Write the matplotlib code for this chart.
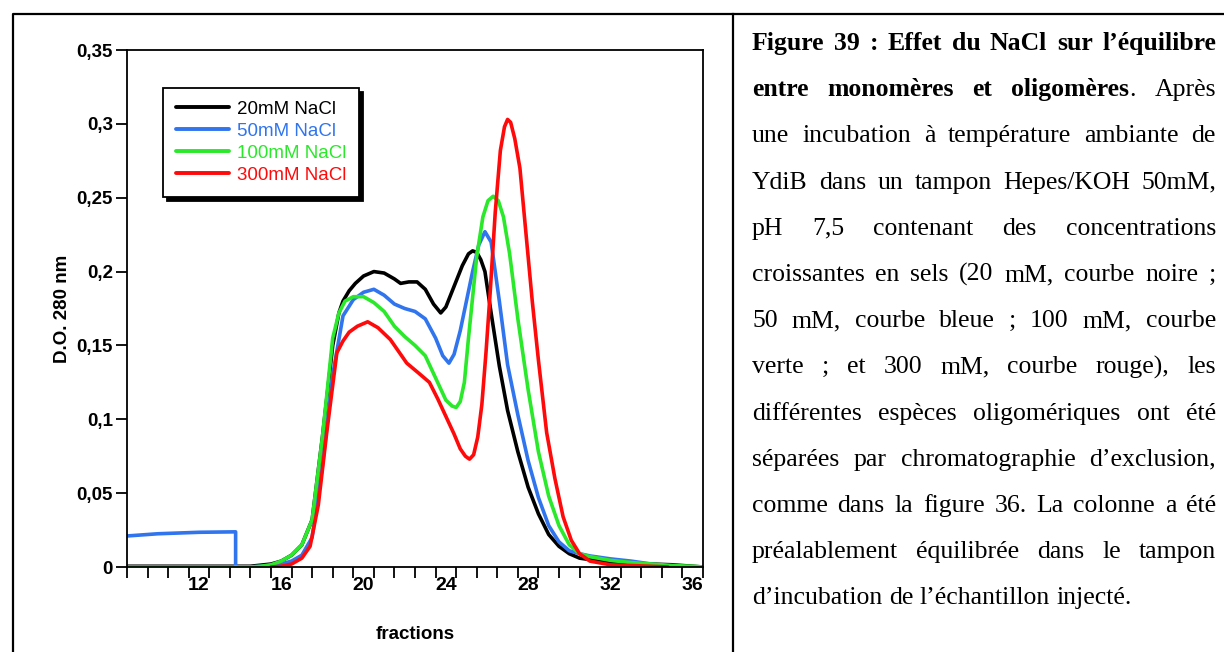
import matplotlib
matplotlib.use("Agg")
import matplotlib.pyplot as plt
from matplotlib.lines import Line2D
from matplotlib.ticker import FixedLocator, FuncFormatter

plt.rcParams['font.family'] = ['Liberation Sans', 'DejaVu Sans']

# data
labels = ['20mM NaCl', '50mM NaCl', '100mM NaCl', '300mM NaCl']
colors = ['#000000', '#3074ee', '#2ae82a', '#ff0a0a']

x_20 = [8.5, 14.5, 15.5, 16.0, 16.5, 17.0, 17.5, 18.0, 18.5, 18.8, 19.0, 19.3, 19.6, 20.0, 20.5,
        21.0, 21.5, 21.8, 22.2, 22.6, 23.0, 23.4, 23.75, 24.0, 24.4, 24.8, 25.1, 25.3, 25.5, 25.7,
        25.9, 26.2, 26.6, 27.0, 27.5, 28.0, 28.5, 29.0, 29.5, 30.0, 30.5, 31.0, 32.0, 33.0, 34.0,
        35.0, 36.0, 36.5]
y_20 = [0.0005, 0.0005, 0.002, 0.004, 0.008, 0.015, 0.032, 0.088, 0.15, 0.172, 0.18, 0.187,
        0.192, 0.197, 0.2, 0.199, 0.195, 0.192, 0.193, 0.193, 0.188, 0.178, 0.172, 0.176, 0.19,
        0.204, 0.212, 0.214, 0.213, 0.208, 0.2, 0.172, 0.136, 0.106, 0.078, 0.054, 0.036, 0.022,
        0.014, 0.009, 0.006, 0.005, 0.003, 0.0025, 0.002, 0.0015, 0.0005, 0.0]

x_50 = [8.5, 10.0, 12.0, 13.78, 13.78, 14.5, 15.5, 16.0, 16.5, 17.0, 17.5, 18.0, 18.5, 19.0, 19.5,
        20.0, 20.5, 21.0, 21.5, 22.0, 22.5, 23.0, 23.5, 23.85, 24.15, 24.4, 24.7, 25.0, 25.3,
        25.6, 25.9, 26.2, 26.6, 27.0, 27.5, 28.0, 28.5, 29.0, 29.5, 30.0, 30.5, 31.0, 32.0, 33.0,
        34.0, 34.5]
y_50 = [0.021, 0.0225, 0.0235, 0.0238, 0.0, 0.0, 0.001, 0.002, 0.004, 0.008, 0.02, 0.068, 0.13,
        0.17, 0.181, 0.186, 0.188, 0.184, 0.178, 0.175, 0.173, 0.168, 0.155, 0.143, 0.138, 0.144,
        0.16, 0.18, 0.2, 0.218, 0.227, 0.22, 0.18, 0.137, 0.103, 0.072, 0.047, 0.028, 0.017,
        0.011, 0.009, 0.0075, 0.0055, 0.004, 0.002, 0.001]

x_100 = [8.5, 14.5, 15.0, 15.5, 16.0, 16.5, 17.0, 17.5, 18.0, 18.5, 18.8, 19.1, 19.5, 20.0, 20.5,
         21.0, 21.5, 22.0, 22.5, 23.0, 23.5, 24.0, 24.3, 24.5, 24.7, 24.9, 25.1, 25.5, 25.8, 26.05,
         26.3, 26.55, 26.8, 27.1, 27.5, 28.0, 28.5, 29.0, 29.5, 30.0, 30.5, 31.0, 32.0, 33.0, 34.0,
         35.0, 36.0, 36.5]
y_100 = [0.0, 0.0, 0.0005, 0.0015, 0.004, 0.008, 0.015, 0.032, 0.088, 0.155, 0.172, 0.18, 0.183,
         0.183, 0.179, 0.173, 0.163, 0.156, 0.15, 0.143, 0.128, 0.113, 0.109, 0.108, 0.112, 0.125,
         0.155, 0.21, 0.237, 0.248, 0.251, 0.248, 0.237, 0.212, 0.168, 0.12, 0.078, 0.048, 0.028,
         0.015, 0.009, 0.007, 0.0045, 0.003, 0.002, 0.001, 0.0005, 0.0]

x_300 = [15.5, 16.0, 16.5, 17.0, 17.4, 17.8, 18.2, 18.7, 19.0, 19.3, 19.7, 20.2, 20.7, 21.3, 21.8,
         22.1, 22.7, 23.2, 23.6, 24.0, 24.4, 24.7, 24.95, 25.15, 25.35, 25.55, 25.75, 25.95, 26.15,
         26.4, 26.65, 26.85, 27.0, 27.15, 27.35, 27.6, 27.9, 28.2, 28.5, 28.9, 29.3, 29.7, 30.1,
         30.5, 31.0, 32.0, 33.0, 34.0, 34.8]
y_300 = [0.0, 0.0005, 0.002, 0.006, 0.014, 0.042, 0.09, 0.145, 0.153, 0.159, 0.163, 0.166, 0.162,
         0.154, 0.144, 0.138, 0.131, 0.125, 0.114, 0.102, 0.09, 0.08, 0.075, 0.073, 0.076, 0.088,
         0.11, 0.145, 0.185, 0.24, 0.282, 0.298, 0.303, 0.301, 0.29, 0.27, 0.225, 0.18, 0.14,
         0.091, 0.06, 0.034, 0.018, 0.009, 0.004, 0.0015, 0.001, 0.0005, 0.0]

y_ticks = [0, 0.05, 0.1, 0.15, 0.2, 0.25, 0.3, 0.35]
x_ticks = [12, 16, 20, 24, 28, 32, 36]

caption = [
    "^Figure ^39 ^: ^Effet ^du ^NaCl ^sur ^l’équilibre",
    "^entre ^monomères ^et ^oligomères|. Après",
    "une incubation à température ambiante de",
    "YdiB dans un tampon Hepes/KOH 50mM,",
    "pH 7,5 contenant des concentrations",
    "croissantes en sels (20 mM, courbe noire ;",
    "50 mM, courbe bleue ; 100 mM, courbe",
    "verte ; et 300 mM, courbe rouge), les",
    "différentes espèces oligomériques ont été",
    "séparées par chromatographie d’exclusion,",
    "comme dans la figure 36. La colonne a été",
    "préalablement équilibrée dans le tampon",
    "d’incubation de l’échantillon injecté.",
]

W, H = 1224, 652
fig = plt.figure(figsize=(W / 100, H / 100), dpi=100)
ax = fig.add_axes([127 / W, 1 - 567 / H, 576 / W, 517 / H])

series = [(x_20, y_20), (x_50, y_50), (x_100, y_100), (x_300, y_300)]
for (xs, ys), c, lab in zip(series, colors, labels):
    ax.plot(xs, ys, color=c, lw=2.6, label=lab, solid_joinstyle='round', solid_capstyle='round')

ax.set_xlim(8.5, 36.5)
ax.set_ylim(0, 0.35)
for s in ax.spines.values():
    s.set_linewidth(1.3)

ax.xaxis.set_major_locator(FixedLocator(x_ticks))
ax.xaxis.set_minor_locator(FixedLocator([v + 0.5 for v in range(8, 37)]))
ax.tick_params(axis='x', which='major', length=0, pad=7, labelsize=14)
ax.tick_params(axis='x', which='minor', length=8, width=1.3, direction='out')
ax.set_yticks(y_ticks)
ax.yaxis.set_major_formatter(FuncFormatter(lambda v, p: ('%g' % round(v, 2)).replace('.', ',')))
ax.tick_params(axis='y', length=8, width=1.3, direction='out', pad=2, labelsize=13.5)
for t in ax.get_xticklabels() + ax.get_yticklabels():
    t.set_fontweight('bold')

ax.set_xlabel('fractions', fontsize=13.5, fontweight='bold', labelpad=23)
ax.set_ylabel('D.O. 280 nm', fontsize=13.5, fontweight='bold', labelpad=4)

leg = ax.legend(loc='upper left', bbox_to_anchor=(0.0625, 0.9265), borderaxespad=0,
                fontsize=13.5, handlelength=2.85, handletextpad=0.4, labelspacing=0.26,
                borderpad=0.68, fancybox=False, edgecolor='black', labelcolor='linecolor',
                shadow={'ox': 3, 'oy': -3, 'color': 'black', 'alpha': 1})
leg.get_frame().set_linewidth(1.3)
for h in leg.get_lines():
    h.set_linewidth(2.8)

# outer frame and divider
fig.add_artist(Line2D([13 / W, 13 / W, 1], [0, 1 - 14 / H, 1 - 14 / H], color='black', lw=1.6))
fig.add_artist(Line2D([733 / W, 733 / W], [0, 1 - 14 / H], color='black', lw=1.6))

# justified caption
renderer = fig.canvas.get_renderer()
left, right = 752, 1216
base0, step = 50, 46.2
cap_size = 18.5


def word_pieces(w):
    if w.startswith('^'):
        parts = w[1:].split('|')
        out = [(parts[0], 'bold')]
        if len(parts) > 1:
            out.append((parts[1], 'normal'))
        return out
    return [(w, 'normal')]


for i, line in enumerate(caption):
    yb = 1 - (base0 + i * step) / H
    words = [word_pieces(w) for w in line.split(' ')]
    placed = []
    widths = []
    for pieces in words:
        wtexts = []
        tot = 0
        for txt, wt in pieces:
            t = fig.text(0, yb, txt, family=['Liberation Serif', 'DejaVu Serif'],
                         fontsize=cap_size, fontweight=wt, va='baseline', ha='left')
            bb = t.get_window_extent(renderer)
            wtexts.append((t, bb.width))
            tot += bb.width
        placed.append(wtexts)
        widths.append(tot)
    if i < len(caption) - 1 and len(words) > 1:
        gap = max((right - left - sum(widths)) / (len(words) - 1), 3)
    else:
        gap = cap_size * 100 / 72 * 0.25
    x = left
    for wtexts, wd in zip(placed, widths):
        xx = x
        for t, tw in wtexts:
            t.set_x(xx / W)
            xx += tw
        x += wd + gap

fig.savefig('out.png', dpi=100)
